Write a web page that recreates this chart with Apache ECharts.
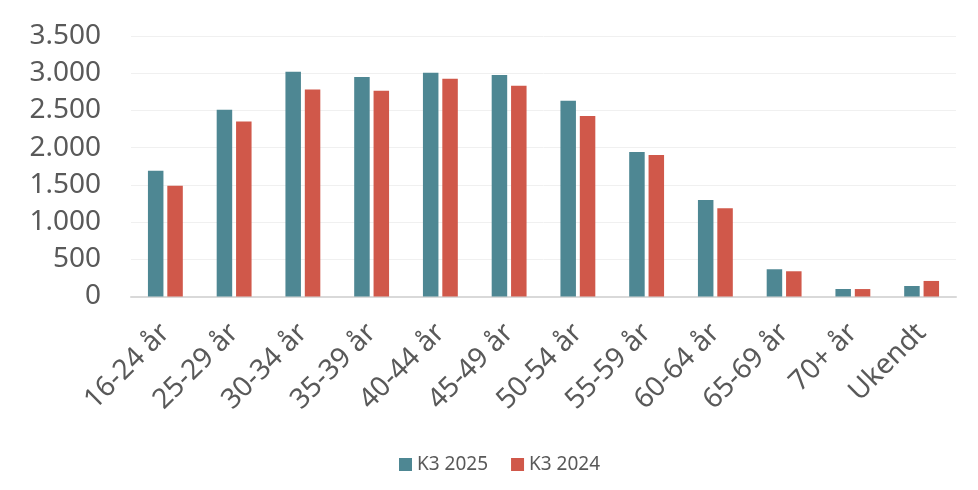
<!DOCTYPE html>
<html><head><meta charset="utf-8">
<script src="https://cdn.jsdelivr.net/npm/echarts@6/dist/echarts.min.js"></script>
<style>html,body{margin:0;padding:0;background:#fff}#c{width:978px;height:490px}</style>
</head><body><div id="c"></div>
<script>
const categories = ['16-24 år','25-29 år','30-34 år','35-39 år','40-44 år','45-49 år','50-54 år','55-59 år','60-64 år','65-69 år','70+ år','Ukendt'];
const k3_2025 = [1690, 2510, 3020, 2950, 3005, 2975, 2630, 1940, 1295, 366, 101, 141];
const k3_2024 = [1487, 2350, 2780, 2766, 2924, 2830, 2425, 1900, 1187, 339, 100, 209];
const seriesNames = ['K3 2025','K3 2024'];
const yTicks = {min: 0, max: 3500, interval: 500};

const fmt = v => String(v).replace(/\B(?=(\d{3})+(?!\d))/g, '.');
const font = 'Noto Sans, sans-serif';
const chart = echarts.init(document.getElementById('c'));
chart.setOption({
  animation: false,
  textStyle: {fontFamily: font},
  grid: {left: 131, right: 22, top: 36, bottom: 193.5},
  legend: {
    top: 450, left: 394, itemWidth: 13, itemHeight: 13, itemGap: 23,
    icon: 'rect',
    textStyle: {fontSize: 19, color: '#595959', fontFamily: font},
    data: seriesNames
  },
  xAxis: {
    type: 'category', data: categories,
    axisLine: {lineStyle: {color: '#d9d9d9', width: 2}},
    axisTick: {show: false},
    axisLabel: {rotate: 45, fontSize: 28, color: '#595959', margin: 32, interval: 0, fontFamily: font}
  },
  yAxis: {
    type: 'value', min: yTicks.min, max: yTicks.max, interval: yTicks.interval,
    axisLine: {show: false}, axisTick: {show: false},
    splitLine: {lineStyle: {color: '#f0f0f0', width: 1}},
    axisLabel: {fontSize: 28, color: '#595959', margin: 30, formatter: fmt, fontFamily: font}
  },
  series: [
    {name: seriesNames[0], type: 'bar', data: k3_2025, barWidth: 15.5, barGap: '25%', itemStyle: {color: '#4e8793'}},
    {name: seriesNames[1], type: 'bar', data: k3_2024, barWidth: 15.5, itemStyle: {color: '#d0584a'}}
  ]
});
</script></body></html>
